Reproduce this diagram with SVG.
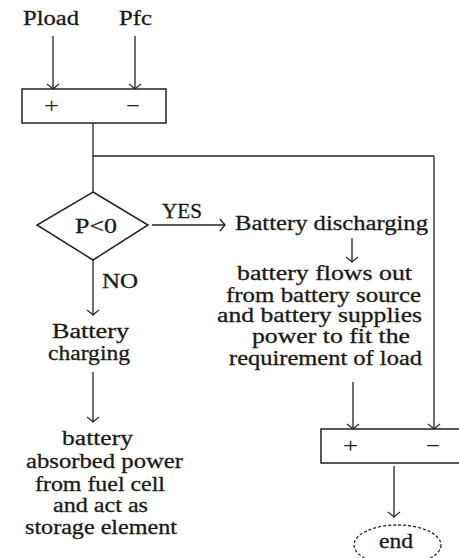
<svg xmlns="http://www.w3.org/2000/svg" width="459" height="558" viewBox="0 0 459 558">
<defs>
<marker id="ah" markerUnits="userSpaceOnUse" markerWidth="16" markerHeight="16" refX="0" refY="0" viewBox="-8 -8 16 16" orient="auto" overflow="visible">
<path d="M-5,-6 Q-1.5,-1.5 0,0 Q-1.5,1.5 -5,6" fill="none" stroke="#222" stroke-width="1.3"/>
</marker>
<style>
text{font-family:'Liberation Serif','Times New Roman',Times,serif;fill:#1a1a1a;stroke:#1a1a1a;stroke-width:0.3;}
.t{font-size:20.5px;}
.s{font-size:22px;stroke-width:0;}
.ln{stroke:#222;stroke-width:1.3;fill:none;}
.ar{stroke:#222;stroke-width:1.3;fill:none;marker-end:url(#ah);}
.bx{stroke:#222;stroke-width:1.5;fill:#fff;}
</style>
</defs>
<rect width="459" height="558" fill="#fff"/>
<g id="connectors">
<line class="ar" x1="53" y1="36" x2="53" y2="89"/>
<line class="ar" x1="135" y1="36" x2="135" y2="89"/>
<polyline class="ln" points="93,123 93,156 434,156"/>
<line class="ln" x1="93" y1="156" x2="93" y2="192"/>
<line class="ar" x1="434" y1="156" x2="434" y2="429"/>
<line class="ar" x1="152" y1="225" x2="225" y2="225"/>
<line class="ar" x1="93" y1="260" x2="93" y2="315"/>
<line class="ar" x1="352" y1="238" x2="352" y2="262"/>
<line class="ar" x1="93" y1="372" x2="93" y2="422"/>
<line class="ar" x1="353" y1="382" x2="353" y2="429"/>
<line class="ar" x1="394" y1="466" x2="394" y2="517"/>
<text class="t" x="162" y="218" textLength="40" lengthAdjust="spacingAndGlyphs">YES</text>
<text class="t" x="102" y="288" textLength="36" lengthAdjust="spacingAndGlyphs">NO</text>
</g>
<g id="input-pload"><text class="t" x="23" y="25" textLength="56" lengthAdjust="spacingAndGlyphs">Pload</text></g>
<g id="input-pfc"><text class="t" x="119" y="25" textLength="33" lengthAdjust="spacingAndGlyphs">Pfc</text></g>
<g id="sum1">
<rect class="bx" x="22" y="89" width="144" height="34"/>
<text class="s" x="44" y="113" textLength="15" lengthAdjust="spacingAndGlyphs">+</text>
<text class="s" x="126" y="113" textLength="14" lengthAdjust="spacingAndGlyphs">−</text>
</g>
<g id="decision">
<polygon class="bx" points="93,192 148,225 93,260 37,225"/>
<text class="t" x="75" y="233" textLength="42" lengthAdjust="spacingAndGlyphs">P&lt;0</text>
</g>
<g id="discharging"><text class="t" x="235" y="230" textLength="193" lengthAdjust="spacingAndGlyphs">Battery discharging</text></g>
<g id="discharge-desc">
<text class="t" x="237" y="280" textLength="175" lengthAdjust="spacingAndGlyphs">battery flows out</text>
<text class="t" x="226" y="302" textLength="195" lengthAdjust="spacingAndGlyphs">from battery source</text>
<text class="t" x="217" y="322" textLength="205" lengthAdjust="spacingAndGlyphs">and battery supplies</text>
<text class="t" x="252" y="343" textLength="158" lengthAdjust="spacingAndGlyphs">power to fit the</text>
<text class="t" x="229" y="365" textLength="193" lengthAdjust="spacingAndGlyphs">requirement of load</text>
</g>
<g id="charging">
<text class="t" x="52" y="338" textLength="77" lengthAdjust="spacingAndGlyphs">Battery</text>
<text class="t" x="48" y="360" textLength="82" lengthAdjust="spacingAndGlyphs">charging</text>
</g>
<g id="charge-desc">
<text class="t" x="62" y="445" textLength="71" lengthAdjust="spacingAndGlyphs">battery</text>
<text class="t" x="26" y="468" textLength="157" lengthAdjust="spacingAndGlyphs">absorbed power</text>
<text class="t" x="35" y="491" textLength="130" lengthAdjust="spacingAndGlyphs">from fuel cell</text>
<text class="t" x="53" y="512" textLength="95" lengthAdjust="spacingAndGlyphs">and act as</text>
<text class="t" x="25" y="534" textLength="152" lengthAdjust="spacingAndGlyphs">storage element</text>
</g>
<g id="sum2">
<rect class="bx" x="321" y="429" width="142" height="34"/>
<text class="s" x="343" y="453" textLength="15" lengthAdjust="spacingAndGlyphs">+</text>
<text class="s" x="426" y="453" textLength="14" lengthAdjust="spacingAndGlyphs">−</text>
</g>
<g id="end">
<ellipse cx="397.5" cy="545" rx="43.5" ry="20" fill="#fff" stroke="#222" stroke-width="1.3" stroke-dasharray="3,2"/>
<text class="t" x="379" y="548" textLength="34" lengthAdjust="spacingAndGlyphs">end</text>
</g>
</svg>
